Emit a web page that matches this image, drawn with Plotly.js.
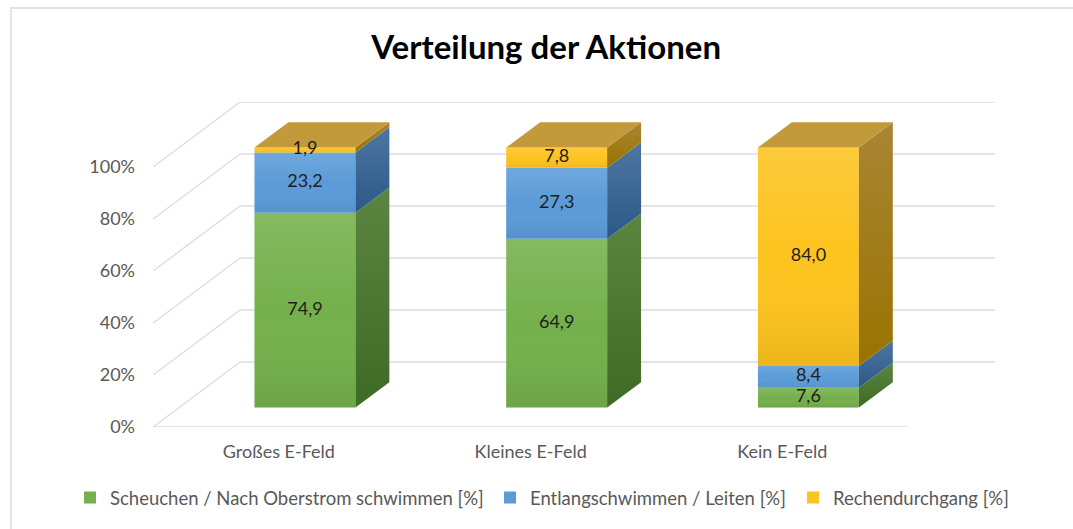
<!DOCTYPE html>
<html><head><meta charset="utf-8">
<script src="https://cdn.plot.ly/plotly-3.0.1.min.js"></script>
<style>
html,body{margin:0;padding:0;background:#fff;}
#chart{width:1073px;height:529px;}
#frame{position:absolute;left:10px;top:7px;width:1100px;height:600px;border-top:2px solid #e1e4eb;border-left:2px solid #e1e4eb;pointer-events:none;}
</style>
</head><body>
<div id="chart"></div><div id="frame"></div>
<script>
// ---- data ----
const categories = ['Großes E-Feld', 'Kleines E-Feld', 'Kein E-Feld'];
const seriesNames = ['Scheuchen / Nach Oberstrom schwimmen [%]', 'Entlangschwimmen / Leiten [%]', 'Rechendurchgang [%]'];
const scheuchen = [74.9, 64.9, 7.6];
const entlang = [23.2, 27.3, 8.4];
const rechen = [1.9, 7.8, 84.0];
const yTickVals = [0, 20, 40, 60, 80, 100];
const yTickText = ['0%', '20%', '40%', '60%', '80%', '100%'];

// ---- style ----
const FONT = 'Lato, "Open Sans", sans-serif';
const frontColors = ['#74b04b', '#5b9bd8', '#fdc31e'];
const sideTop = ['#5a8642', '#4d77a2', '#aa8534'];
const sideBottom = ['#3e6a26', '#2c5887', '#997300'];
const topFaceColor = '#c39a3b';
const gridColor = '#dadde5';
const DX = 0.3457, DY = 25;     // full depth vector in axis units
const D0 = 0.30, D1 = 0.69;     // bar front / back depth fraction
const BW = 0.401;               // bar width
const xRange = [-0.5, 2.845];
const yRange = [0, 125];
const legendIds = ['legend', 'legend2', 'legend3'];
const legendLeftPx = [70, 490, 793];

const series = [scheuchen, entlang, rechen];
const idx = categories.map((c, i) => i);
const ddx = (D1 - D0) * DX, ddy = (D1 - D0) * DY;

const traces = [];
const faces = [];
const labelX = [], labelY = [], labelV = [];
const cum = categories.map(() => 0);

series.forEach((vals, s) => {
  const bases = vals.map((v, i) => cum[i] + D0 * DY);
  const xs = idx.map(i => i + D0 * DX);
  traces.push({
    type: 'bar', name: seriesNames[s], x: xs, y: vals, base: bases, width: BW,
    marker: {color: frontColors[s], line: {width: 0}}, hoverinfo: 'skip', showlegend: true,
    legend: legendIds[s]
  });
  vals.forEach((v, i) => {
    const xc = xs[i], xl = xc - BW / 2, xr = xc + BW / 2;
    const b0 = bases[i], t0 = bases[i] + v;
    faces.push({
      type: 'scatter', mode: 'lines', x: [xl, xr, xr, xl, xl], y: [b0, b0, t0, t0, b0],
      fill: 'toself', line: {width: 0}, hoverinfo: 'skip', showlegend: false,
      fillgradient: {type: 'vertical', colorscale: [[0, 'rgba(0,0,0,0.07)'], [0.5, 'rgba(255,255,255,0)'], [1, 'rgba(255,255,255,0.13)']]}
    });
    faces.push({
      type: 'scatter', mode: 'lines',
      x: [xr, xr + ddx, xr + ddx, xr, xr], y: [b0, b0 + ddy, t0 + ddy, t0, b0],
      fill: 'toself', line: {width: 0}, hoverinfo: 'skip', showlegend: false,
      fillgradient: {type: 'vertical', colorscale: [[0, sideBottom[s]], [1, sideTop[s]]]}
    });
    if (s === series.length - 1) {
      faces.push({
        type: 'scatter', mode: 'lines',
        x: [xl, xr, xr + ddx, xl + ddx, xl], y: [t0, t0, t0 + ddy, t0 + ddy, t0],
        fill: 'toself', fillcolor: topFaceColor, line: {width: 0}, hoverinfo: 'skip', showlegend: false
      });
    }
    labelX.push(xc); labelY.push(b0 + v / 2); labelV.push(v);
    cum[i] += v;
  });
});

traces.push(...faces);
traces.push({
  type: 'scatter', mode: 'text', x: labelX, y: labelY, customdata: labelV,
  texttemplate: '%{customdata:.1f}', textposition: 'middle center',
  textfont: {family: FONT, size: 18, color: '#1e1e1e'}, hoverinfo: 'skip', showlegend: false
});

const shapes = [];
yTickVals.forEach(g => {
  shapes.push({type: 'line', layer: 'below', xref: 'x', yref: 'y', x0: xRange[0], y0: g, x1: xRange[0] + DX, y1: g + DY, line: {color: gridColor, width: 1.4}});
  shapes.push({type: 'line', layer: 'below', xref: 'x', yref: 'y', x0: xRange[0] + DX, y0: g + DY, x1: xRange[1], y1: g + DY, line: {color: gridColor, width: 1.4}});
});
shapes.push({type: 'line', layer: 'below', xref: 'x', yref: 'y', x0: xRange[0], y0: 0, x1: categories.length - 0.5, y1: 0, line: {color: gridColor, width: 1.4}});

function legendCfg(px) {
  return {orientation: 'h', xref: 'container', x: px / 1073, xanchor: 'left', yref: 'container', y: 1 - 498 / 529, yanchor: 'middle',
          font: {family: FONT, size: 18.5, color: '#595959'}, itemclick: false, itemdoubleclick: false, bgcolor: 'rgba(0,0,0,0)'};
}

const layout = {
  width: 1073, height: 529,
  margin: {l: 153, r: 78, t: 102, b: 102},
  paper_bgcolor: '#fff', plot_bgcolor: 'rgba(0,0,0,0)',
  separators: ',.',
  barmode: 'overlay',
  title: {text: 'Verteilung der Aktionen', font: {family: FONT, size: 33, weight: 'bold', color: '#000'},
          x: 0.509, xref: 'container', xanchor: 'center', y: 0.911, yref: 'container', yanchor: 'middle'},
  xaxis: {range: xRange, tickvals: idx, ticktext: categories, showgrid: false, zeroline: false, showline: false,
          ticks: '', ticklabelstandoff: 12, tickfont: {family: FONT, size: 18, color: '#595959'}, fixedrange: true},
  yaxis: {range: yRange, tickvals: yTickVals, ticktext: yTickText, showgrid: false, zeroline: false, showline: false,
          ticks: '', ticklabelstandoff: 17, tickfont: {family: FONT, size: 18, color: '#595959'}, fixedrange: true},
  legend: legendCfg(legendLeftPx[0]),
  legend2: legendCfg(legendLeftPx[1]),
  legend3: legendCfg(legendLeftPx[2]),
  shapes: shapes,
  showlegend: true
};

Plotly.newPlot('chart', traces, layout, {displayModeBar: false, staticPlot: true});
</script>
</body></html>
